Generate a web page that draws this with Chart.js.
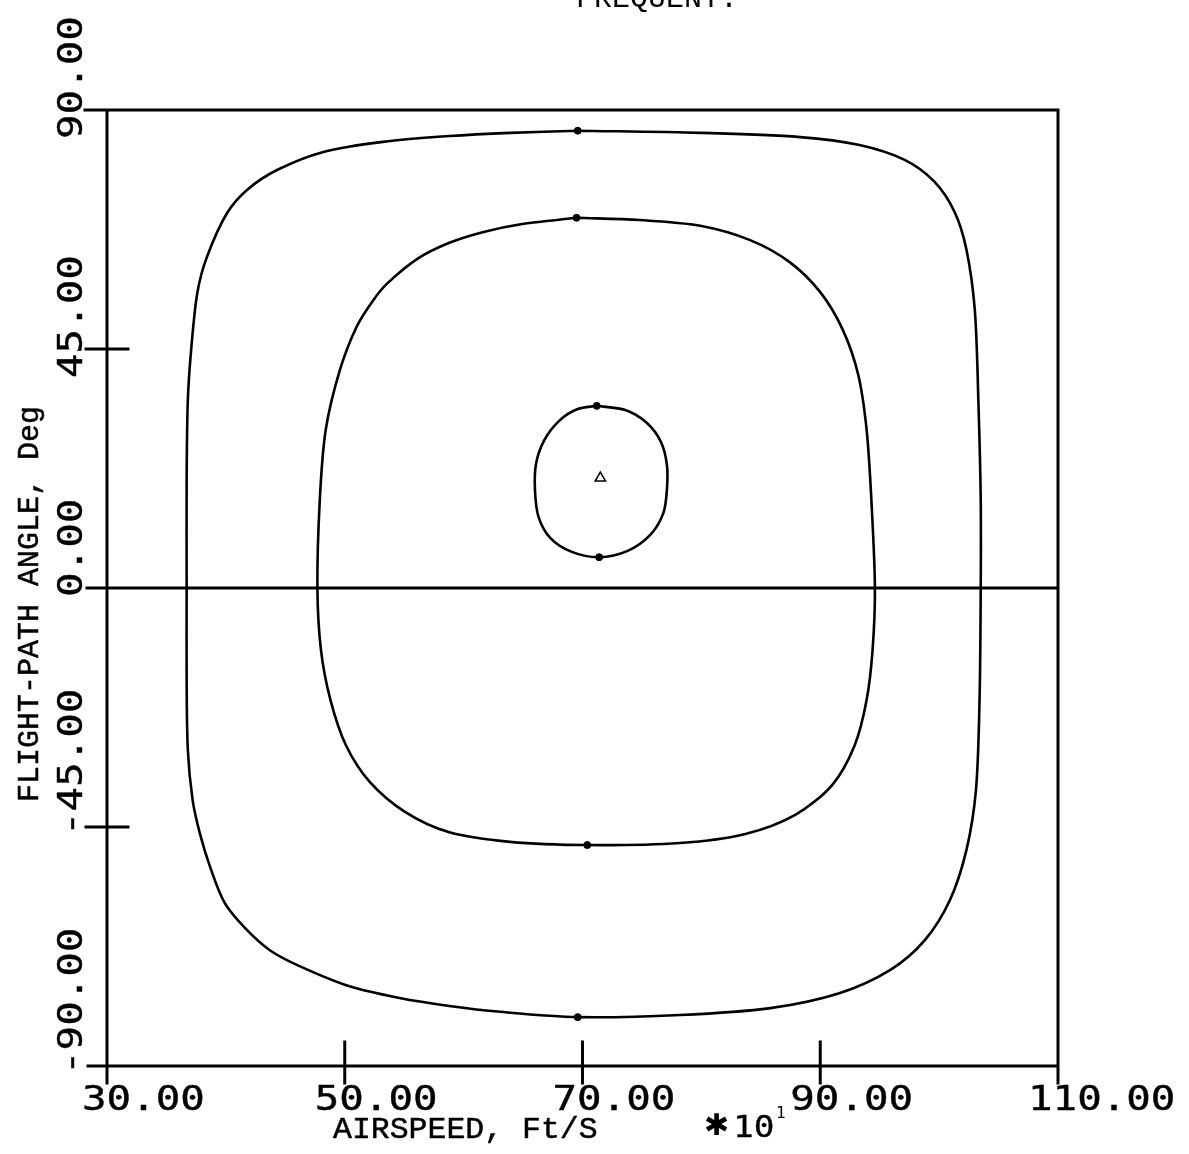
<!DOCTYPE html>
<html>
<head>
<meta charset="utf-8">
<script src="https://cdn.jsdelivr.net/npm/chart.js@4"></script>
<style>
  body { margin: 0; background: #fff; }
  canvas { display: block; }
</style>
</head>
<body>
<canvas id="phase-plane" width="1189" height="1154"></canvas>
<script>
// axis ticks (airspeed is in units of 10 ft/s)
const airspeedTicks = [30, 50, 70, 90, 110];
const angleTicks = [-90, -45, 0, 45, 90];

// outer trajectory
const outerSpeed = [69.6, 79.9, 88.3, 93.3, 97.1, 99.6, 101.3, 102.3, 103.0, 103.3, 103.5, 103.5, 103.4, 103.1, 102.3, 100.9, 98.8, 95.9, 91.6, 85.8, 78.2, 69.6, 63.1, 58.8, 54.6, 50.4, 46.2, 43.7, 41.6, 39.9, 38.7, 37.8, 37.2, 36.8, 36.7, 36.7, 36.7, 36.8, 37.1, 37.6, 38.4, 40.1, 41.8, 44.3, 48.2, 53.2, 58.8, 63.9];
const outerAngle = [86.1, 85.7, 84.9, 83.4, 80.6, 76.5, 70.8, 63.7, 52.4, 35.4, 16.6, 0, -21.1, -38.0, -49.3, -58.8, -66.3, -71.9, -76.3, -79.1, -80.4, -80.8, -79.8, -78.7, -77.2, -75.0, -71.2, -68.2, -64.0, -59.3, -52.7, -46.1, -39.9, -30.5, -17.3, 0, 20.3, 35.4, 45.4, 55.6, 62.3, 70.6, 75.0, 78.7, 82.1, 84.0, 85.1, 85.7];

// middle trajectory
const middleSpeed = [69.5, 74.8, 79.9, 84.1, 87.4, 90.0, 91.9, 93.2, 93.9, 94.3, 94.6, 94.4, 93.9, 92.9, 91.0, 87.9, 83.7, 78.2, 70.4, 63.9, 58.8, 55.1, 52.1, 50.1, 48.8, 48.0, 47.7, 47.9, 48.4, 49.6, 51.0, 52.4, 53.6, 56.2, 58.8, 61.6, 64.8];
const middleAngle = [69.7, 69.3, 68.2, 65.5, 61.4, 55.7, 48.6, 40.1, 29.8, 16.6, 0, -11.7, -21.1, -29.6, -37.1, -42.7, -46.3, -48.0, -48.4, -47.8, -46.0, -42.2, -36.5, -29.6, -21.1, -11.7, 0, 16.6, 29.8, 41.1, 49.2, 54.2, 57.4, 62.1, 65.0, 67.0, 68.5];

// inner trajectory
const innerSpeed = [71.2, 73.6, 75.4, 76.6, 77.1, 77.1, 76.8, 75.7, 73.8, 71.4, 69.1, 67.3, 66.3, 66.0, 66.1, 66.8, 68.1, 69.6];
const innerAngle = [34.3, 33.5, 31.1, 27.5, 23.2, 18.5, 14.1, 10.0, 7.0, 5.8, 6.8, 9.4, 13.4, 18.5, 23.5, 27.9, 31.6, 33.7];

// direction marks on the curves and the trim point
const markSpeed = [69.6, 69.6, 69.5, 70.4, 71.2, 71.4];
const markAngle = [86.1, -80.8, 69.7, -48.4, 34.3, 5.8];
const trimSpeed = [71.5];
const trimAngle = [20.7];

function pts(xs, ys, close) {
  const out = xs.map((x, i) => ({ x: x, y: ys[i] }));
  if (close) out.push(out[0]);
  return out;
}

function curve(xs, ys) {
  return {
    data: pts(xs, ys, true),
    showLine: true,
    borderColor: '#000',
    borderWidth: 2.6,
    tension: 0.3,
    pointRadius: 0
  };
}

function stretchText(ctx, txt, x, y, sx, angle) {
  ctx.save();
  ctx.translate(x, y);
  if (angle) ctx.rotate(angle);
  ctx.scale(sx, 1);
  ctx.fillText(txt, 0, 0);
  ctx.strokeText(txt, 0, 0);
  ctx.restore();
}

const framePlugin = {
  id: 'frame',
  beforeDatasetsDraw(chart) {
    const ctx = chart.ctx;
    const xs = chart.scales.x, ys = chart.scales.y;
    const l = xs.getPixelForValue(30), r = xs.getPixelForValue(110);
    const t = ys.getPixelForValue(90), b = ys.getPixelForValue(-90);
    ctx.save();
    ctx.strokeStyle = '#000';
    ctx.lineWidth = 3;
    ctx.lineCap = 'square';
    ctx.beginPath();
    // box, with the end ticks sticking out
    ctx.moveTo(l - 22, t); ctx.lineTo(r, t);
    ctx.moveTo(l - 19, b); ctx.lineTo(r, b);
    ctx.moveTo(l, t); ctx.lineTo(l, b + 17);
    ctx.moveTo(r, t); ctx.lineTo(r, b + 17);
    // zero angle line
    const y0 = ys.getPixelForValue(0);
    ctx.moveTo(l - 20, y0); ctx.lineTo(r, y0);
    angleTicks.forEach(v => {
      if (Math.abs(v) !== 45) return;
      const py = ys.getPixelForValue(v);
      ctx.moveTo(l - 21, py); ctx.lineTo(l + 21, py);
    });
    airspeedTicks.forEach(v => {
      if (v === 30 || v === 110) return;
      const px = xs.getPixelForValue(v);
      ctx.moveTo(px, b - 24); ctx.lineTo(px, b + 17);
    });
    ctx.stroke();
    ctx.restore();
  },
  afterDraw(chart) {
    const ctx = chart.ctx;
    const xs = chart.scales.x, ys = chart.scales.y;
    ctx.save();
    ctx.fillStyle = '#000';
    ctx.strokeStyle = '#000';
    ctx.lineWidth = 0.4;
    ctx.textBaseline = 'alphabetic';
    ctx.textAlign = 'left';

    // tick labels
    ctx.font = '34px "DejaVu Sans Mono"';
    airspeedTicks.forEach(v => {
      const off = v === 30 ? 25 : 30;
      stretchText(ctx, v.toFixed(2), xs.getPixelForValue(v) - off, 1110, 1.2);
    });
    angleTicks.forEach(v => {
      const shift = v > 0 ? 29 : 9;
      stretchText(ctx, v.toFixed(2), 82, ys.getPixelForValue(v) + shift, 1.2, -Math.PI / 2);
    });

    // axis titles
    ctx.lineWidth = 0.5;
    ctx.font = '30px "Liberation Mono"';
    stretchText(ctx, 'AIRSPEED, Ft/S', 333, 1138, 1.05);
    ctx.save();
    ctx.translate(38, 604);
    ctx.rotate(-Math.PI / 2);
    ctx.textAlign = 'center';
    ctx.fillText('FLIGHT-PATH ANGLE, Deg', 0, 0);
    ctx.strokeText('FLIGHT-PATH ANGLE, Deg', 0, 0);
    ctx.restore();

    // scale factor
    ctx.font = '30px "DejaVu Sans"';
    ctx.fillText('\u2731', 704, 1135);
    ctx.lineWidth = 0.3;
    ctx.font = '30px "DejaVu Sans Mono"';
    stretchText(ctx, '10', 733, 1137, 1.15);
    ctx.font = '16px "DejaVu Sans Mono"';
    ctx.fillText('1', 776, 1118);

    // title, clipped at the top edge of the page
    ctx.font = '30px "Liberation Mono"';
    ctx.fillText('FREQUENT.', 576, 7);
    ctx.restore();
  }
};

new Chart(document.getElementById('phase-plane').getContext('2d'), {
  type: 'scatter',
  data: {
    datasets: [
      curve(outerSpeed, outerAngle),
      curve(middleSpeed, middleAngle),
      curve(innerSpeed, innerAngle),
      {
        data: pts(markSpeed, markAngle, false),
        pointRadius: 3.5,
        pointBackgroundColor: '#000',
        pointBorderColor: '#000'
      },
      {
        data: pts(trimSpeed, trimAngle, false),
        pointStyle: 'triangle',
        pointRadius: 6,
        pointBackgroundColor: '#fff',
        pointBorderColor: '#000',
        pointBorderWidth: 1.5
      }
    ]
  },
  options: {
    responsive: false,
    animation: false,
    layout: { padding: { left: 107, top: 110, right: 131, bottom: 88 } },
    plugins: { legend: { display: false }, tooltip: { enabled: false } },
    scales: {
      x: { type: 'linear', min: 30, max: 110, display: false },
      y: { type: 'linear', min: -90, max: 90, display: false }
    }
  },
  plugins: [framePlugin]
});
</script>
</body>
</html>
